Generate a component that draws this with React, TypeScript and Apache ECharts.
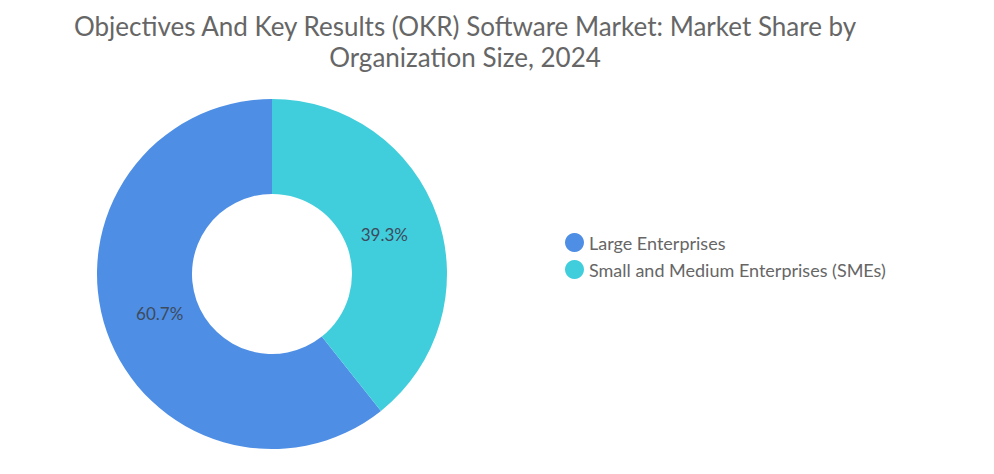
import React, { useEffect, useRef } from "react";
import * as echarts from "echarts";

const categories = ["Large Enterprises", "Small and Medium Enterprises (SMEs)"];
const shares = [60.7, 39.3];
const colors = ["#4E8FE5", "#41CEDC"];
const titleText = "Objectives And Key Results (OKR) Software Market: Market Share by\nOrganization Size, 2024";

export default function App() {
  const ref = useRef<HTMLDivElement>(null);
  useEffect(() => {
    if (!ref.current) return;
    const chart = echarts.init(ref.current, undefined, { renderer: "svg" });
    const data = categories.map((name, i) => ({
      name,
      value: shares[i],
      itemStyle: { color: colors[i] },
    }));
    chart.setOption({
      animation: false,
      title: {
        text: titleText,
        left: 452,
        top: -3,
        textAlign: "center",
        textStyle: {
          fontFamily: "Lato",
          fontSize: 26,
          fontWeight: "normal",
          color: "#666666",
          lineHeight: 31,
        },
      },
      legend: {
        orient: "vertical",
        left: 552,
        top: 220,
        icon: "circle",
        itemWidth: 19,
        itemHeight: 19,
        itemGap: 8,
        textStyle: { fontFamily: "Lato", fontSize: 18, color: "#666666" },
        data: categories,
      },
      series: [
        {
          type: "pie",
          center: [264, 266],
          radius: [80, 175],
          startAngle: 90,
          clockwise: false,
          data,
          label: { show: false },
          labelLine: { show: false },
        },
        {
          type: "pie",
          silent: true,
          center: [264, 266],
          radius: [80, 152],
          startAngle: 90,
          clockwise: false,
          data: data.map((d) => ({ ...d, itemStyle: { color: "rgba(0,0,0,0)" } })),
          label: {
            show: true,
            position: "inner",
            formatter: (p: any) => p.value.toFixed(1) + "%",
            fontFamily: "Lato",
            fontSize: 17,
            color: "#3D4A5C",
          },
          labelLine: { show: false },
        },
      ],
    });
    return () => chart.dispose();
  }, []);
  return <div ref={ref} style={{ width: 978, height: 458 }} />;
}
